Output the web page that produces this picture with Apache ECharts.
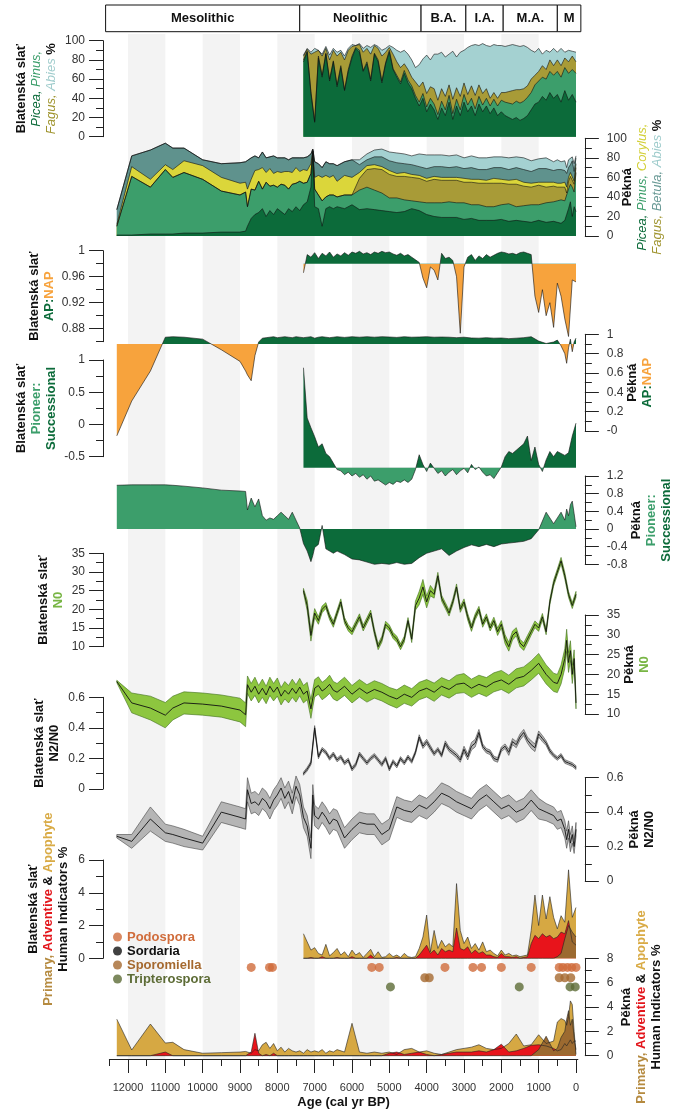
<!DOCTYPE html>
<html>
<head>
<meta charset="utf-8">
<script src="https://cdn.jsdelivr.net/npm/echarts@6/dist/echarts.min.js"></script>
<style>
  html, body { margin: 0; padding: 0; background: #fff; }
  #chart { width: 674px; height: 1112px; }
</style>
</head>
<body>
<div id="chart"></div>
<script>
// ---------------------------------------------------------------------------
// Data: Blatenská slať (high-resolution record, 7300 cal yr BP to present)
// ---------------------------------------------------------------------------
const blatAge = [
  7300,7200,7100,7000,6900,6800,6700,6600,6500,6400,
  6300,6200,6100,6000,5900,5800,5700,5600,5500,5400,
  5300,5200,5100,5000,4900,4800,4700,4600,4500,4400,
  4300,4200,4100,4000,3900,3800,3700,3600,3500,3400,
  3300,3200,3100,3000,2900,2800,2700,2600,2500,2400,
  2300,2200,2100,2000,1900,1800,1700,1600,1500,1400,
  1300,1200,1100,1000,900,800,700,600,500,400,
  300,200,100,0
];
const blatPicea = [
  78,88,45,15,82,62,86,58,78,52,
  72,48,68,82,92,88,68,76,58,86,
  78,56,76,88,70,62,55,66,56,50,
  40,32,40,26,34,28,18,30,22,36,
  18,32,22,36,26,32,22,34,26,32,
  24,30,22,26,22,20,18,20,17,19,
  22,28,34,36,42,38,46,40,44,36,
  48,38,44,36
];
const blatPinus = [
  2,1,2,1,2,2,1,2,1,2,
  2,1,2,2,1,2,1,2,2,1,
  2,2,1,2,1,2,2,3,3,3,
  3,4,5,5,6,6,5,7,6,7,
  6,7,6,8,7,8,7,8,7,8,
  8,9,10,12,14,15,16,17,18,18,
  19,18,20,22,20,22,22,24,24,26,
  24,28,26,30
];
const blatFagus = [
  4,2,39,72,6,20,5,20,11,30,
  14,31,20,10,2,6,19,14,26,8,
  12,26,11,3,15,14,15,7,11,9,
  14,16,12,14,12,16,15,13,14,11,
  15,12,14,12,11,13,14,12,12,10,
  8,7,8,8,10,12,14,12,14,13,
  12,14,10,10,12,10,12,10,12,12,
  10,12,14,12
];
const blatAbies = [
  1,1,2,4,0,2,2,5,2,4,
  2,4,2,2,0,1,4,3,7,1,
  2,6,4,2,7,12,16,14,16,18,
  15,23,24,40,28,36,48,38,41,32,
  50,32,46,34,49,42,53,41,52,45,
  54,50,55,49,48,48,48,46,45,45,
  40,30,24,24,12,20,8,18,8,18,
  6,12,5,10
];
const blatApNap = [
  0.966,0.994,0.99,0.997,0.988,0.996,0.992,0.998,0.99,0.995,
  0.992,0.997,0.993,0.998,0.996,0.999,0.995,0.997,0.994,0.998,
  0.996,0.999,0.997,0.998,0.995,0.993,0.996,0.992,0.994,0.99,
  0.986,0.982,0.958,0.943,0.975,0.97,0.955,0.996,0.988,0.99,
  0.985,0.96,0.873,0.975,0.99,0.994,0.985,0.992,0.988,0.994,
  0.99,0.993,0.996,0.998,0.997,0.995,0.996,0.994,0.997,0.998,
  0.996,0.994,0.93,0.905,0.94,0.9,0.92,0.882,0.95,0.93,
  0.895,0.868,0.955,0.952
];
const blatPioneer = [
  0.88,0.1,-0.05,-0.19,-0.35,-0.3,-0.45,-0.5,-0.6,-0.7,
  -0.72,-0.78,-0.74,-0.8,-0.76,-0.82,-0.78,-0.85,-0.8,-0.88,
  -0.86,-0.9,-0.94,-0.9,-0.93,-0.88,-0.9,-0.86,-0.9,-0.85,
  -0.7,-0.47,-0.62,-0.73,-0.6,-0.68,-0.76,-0.72,-0.8,-0.74,
  -0.7,-0.78,-0.72,-0.68,-0.75,-0.62,-0.7,-0.66,-0.74,-0.8,
  -0.78,-0.84,-0.75,-0.66,-0.5,-0.42,-0.45,-0.4,-0.35,-0.3,
  -0.18,-0.56,-0.35,-0.62,-0.73,-0.55,-0.42,-0.5,-0.42,-0.45,
  -0.48,-0.44,-0.18,0.02
];
const blatN0 = [
  25,21,13,19,17,20,21,18,16,19,
  22,17,15,14,16,18,15,17,19,14,
  10,12,16,15,13,12,10,12,17,12,
  21,23,26,22,25,24,29,23,21,19,
  22,26,20,22,18,15,18,20,16,18,
  15,17,14,16,12,10,13,14,11,10,
  12,14,16,15,18,14,22,27,30,33,
  29,24,21,24
];
const blatN0Spread = [
  0.6,1.4,1.5,1.2,1.0,0.9,0.8,0.8,0.8,0.8,
  0.8,0.8,0.8,0.8,0.8,0.8,0.8,0.8,0.8,0.8,
  0.8,0.8,0.8,0.8,0.8,0.8,0.8,0.8,0.8,0.9,
  1.2,1.8,2.0,1.6,1.4,1.0,0.9,0.8,0.8,0.8,
  0.8,0.8,0.8,0.8,0.9,0.9,0.8,0.8,0.8,0.8,
  0.8,0.9,1.0,1.0,1.2,1.2,1.2,1.1,1.0,1.0,
  1.0,0.9,0.9,0.9,0.9,0.8,0.8,0.8,0.8,0.9,
  0.9,0.8,0.8,0.8
];
const blatN2N0 = [
  0.1,0.13,0.17,0.4,0.21,0.26,0.24,0.2,0.23,0.19,
  0.21,0.17,0.19,0.13,0.16,0.23,0.2,0.17,0.2,0.22,
  0.19,0.16,0.2,0.13,0.18,0.15,0.2,0.17,0.21,0.18,
  0.24,0.34,0.28,0.31,0.27,0.23,0.26,0.22,0.3,0.26,
  0.24,0.22,0.19,0.26,0.21,0.28,0.3,0.37,0.28,0.25,
  0.24,0.2,0.19,0.26,0.28,0.24,0.31,0.29,0.34,0.37,
  0.32,0.29,0.27,0.36,0.33,0.3,0.25,0.22,0.2,0.22,
  0.18,0.17,0.16,0.14
];
const blatN2N0Spread = [
  0.01,0.012,0.012,0.015,0.012,0.012,0.012,0.012,0.012,0.012,
  0.012,0.012,0.012,0.012,0.012,0.012,0.012,0.012,0.012,0.012,
  0.012,0.012,0.012,0.012,0.012,0.012,0.012,0.012,0.012,0.012,
  0.012,0.015,0.015,0.015,0.015,0.012,0.012,0.012,0.015,0.015,
  0.015,0.015,0.015,0.02,0.02,0.025,0.025,0.02,0.015,0.015,
  0.015,0.015,0.015,0.015,0.015,0.02,0.02,0.02,0.02,0.02,
  0.02,0.025,0.025,0.02,0.02,0.015,0.015,0.012,0.012,0.012,
  0.012,0.012,0.012,0.012
];
const blatApophyte = [
  1.5,1.0,0.5,0.65,0.3,0.2,0.85,0.15,0.35,0.6,
  0.2,0.4,0.1,0.5,0.2,0.35,0.05,0.3,0.55,0.1,
  0.4,0.05,0.1,0.3,0.1,0.2,0.05,0.3,0.1,0.05,
  0.1,0.6,1.3,2.64,0.4,1.7,0.6,1.1,0.7,0.9,
  0.7,4.56,1.7,0.9,1.3,0.6,0.9,0.5,1.0,0.4,
  0.5,0.3,0.15,0.5,0.2,0.3,0.15,0.2,0.1,0.15,
  0.2,1.7,3.86,2.0,3.86,2.4,3.76,2.5,1.8,2.6,
  2.2,5.4,2.5,3.1
];
const blatAdventive = [
  0,0,0.05,0,0,0.1,0,0,0,0.05,
  0,0,0,0.1,0,0,0,0,0.2,0,
  0,0,0,0,0,0.05,0,0,0,0,
  0,0.2,0.5,0.8,0.3,0.5,0.2,0.6,0.4,0.5,
  0.4,1.85,0.6,0.5,0.7,0.3,0.5,0.3,0.4,0.2,
  0.2,0.1,0.05,0.3,0.1,0.1,0.05,0.1,0,0.05,
  0.1,0.9,1.4,1.2,1.5,1.3,1.4,1.2,1.3,1.6,
  1.5,2.3,1.0,0.8
];
const blatPrimary = [
  0,0,0,0,0,0,0,0,0,0,
  0,0,0,0,0,0,0,0,0,0,
  0,0,0,0,0,0,0,0,0,0,
  0,0,0,0,0,0,0,0,0,0,
  0,0,0,0,0,0,0,0,0,0,
  0,0,0,0,0,0,0,0,0,0,
  0,0,0,0,0,0,0,0,0.1,0.3,
  1.2,2.0,1.6,1.3
];

// ---------------------------------------------------------------------------
// Data: Pěkná (12300 cal yr BP to present)
// ---------------------------------------------------------------------------
const pekAge = [
  12300,11900,11400,11000,10800,10500,10000,9500,9000,8850,
  8800,8700,8600,8500,8400,8300,8200,8100,8000,7900,
  7800,7700,7600,7500,7400,7300,7200,7100,7050,7000,
  6900,6800,6700,6600,6500,6400,6200,6000,5800,5600,
  5400,5200,5000,4800,4600,4400,4200,4000,3800,3600,
  3400,3200,3000,2800,2600,2400,2200,2000,1800,1600,
  1400,1200,1000,800,600,500,400,300,250,200,
  150,100,50,0
];
const pekPicea = [
  1,1,2,2,2,3,3,4,4,5,
  10,18,22,24,28,20,26,22,28,25,
  22,28,25,30,26,32,35,50,85,30,
  28,10,28,30,28,30,28,32,27,28,
  27,26,25,24,25,28,26,22,20,19,
  19,19,17,18,16,16,16,17,15,16,
  15,14,16,14,15,14,13,16,22,28,
  35,20,30,25
];
const pekPinus = [
  9,60,48,66,58,62,55,42,38,40,
  20,30,25,32,20,35,25,30,22,28,
  30,20,28,24,30,22,20,14,2,18,
  14,26,12,12,14,10,14,10,20,22,
  20,18,14,15,12,8,9,12,14,15,
  16,15,17,14,16,14,14,15,18,14,
  16,18,16,20,20,22,24,20,12,20,
  18,30,15,40
];
const pekFagus = [
  0,0,0,0,0,0,0,0,0,0,
  0,0,0,0,0,0,0,0,0,0,
  0,0,0,0,0,0,0,0,0,0,
  0,0,0,0,0,0,0,0,12,18,
  22,24,24,22,24,24,24,22,24,23,
  22,23,21,23,22,24,24,22,20,23,
  20,18,20,16,16,14,13,14,10,8,
  8,10,8,5
];
const pekCorylus = [
  2,10,8,5,8,12,14,14,12,10,
  18,10,20,12,22,10,18,12,16,12,
  14,18,12,16,10,14,12,10,1,12,
  20,24,22,18,20,16,20,18,6,4,
  4,3,4,3,4,3,3,3,3,3,
  3,3,4,3,4,3,5,4,4,5,
  4,4,3,5,4,4,4,5,6,4,
  4,5,3,4
];
const pekBetula = [
  15,11,30,22,22,13,6,14,21,21,
  28,22,15,12,16,15,12,18,14,15,
  14,12,15,10,14,12,14,10,1,16,
  12,10,14,14,12,16,14,18,8,6,
  8,10,10,11,9,10,9,10,10,11,
  10,11,10,12,10,11,11,12,11,12,
  13,12,14,14,12,14,14,12,14,10,
  8,12,10,6
];
const pekAbies = [
  0,0,0,0,0,0,0,0,0,0,
  0,0,0,0,0,0,0,0,0,0,
  0,0,0,0,0,0,0,0,0,0,
  0,0,0,0,0,0,0,0,5,6,
  7,8,9,10,10,9,13,14,12,12,
  12,12,11,12,12,12,11,11,12,11,
  12,11,10,11,9,10,8,10,6,8,
  5,4,8,2
];
const pekApNap = [
  -0.05,0.31,0.62,0.97,0.975,0.97,0.95,0.84,0.72,0.62,
  0.58,0.52,0.78,0.92,0.96,0.965,0.97,0.975,0.965,0.97,
  0.975,0.97,0.965,0.975,0.97,0.965,0.97,0.975,0.97,0.96,
  0.97,0.975,0.97,0.965,0.97,0.975,0.968,0.975,0.97,0.975,
  0.97,0.975,0.972,0.968,0.975,0.97,0.972,0.975,0.97,0.972,
  0.97,0.965,0.97,0.962,0.96,0.965,0.96,0.962,0.955,0.96,
  0.965,0.975,0.93,0.905,0.92,0.94,0.88,0.8,0.7,0.86,
  0.95,0.82,0.92,0.96
];
const pekPioneer = [
  0.99,1.0,1.0,1.0,0.99,0.97,0.93,0.88,0.86,0.85,
  0.43,0.7,0.5,0.68,0.3,0.2,0.25,0.22,0.3,0.38,
  0.3,0.22,0.38,0.2,0.02,-0.33,-0.5,-0.74,-0.6,-0.42,
  -0.35,0.08,-0.45,-0.5,-0.55,-0.5,-0.58,-0.68,-0.7,-0.75,
  -0.8,-0.78,-0.8,-0.76,-0.8,-0.78,-0.65,-0.55,-0.5,-0.45,
  -0.6,-0.5,-0.42,-0.36,-0.4,-0.35,-0.4,-0.34,-0.32,-0.3,
  -0.28,-0.22,-0.02,0.38,0.12,0.25,0.38,0.2,0.45,0.3,
  0.55,0.63,0.35,0.05
];
const pekN0 = [
  18.2,12.8,11.5,9.7,11.5,12.8,12.5,12,11,9.8,
  17.4,15.5,17,15,16.5,14.8,17,15.5,16.8,14.5,
  16,15,16.5,15.2,16.8,15,15.8,11.3,14,16.5,
  17.2,15.8,16.5,17.5,16,15.5,17,15,16.5,15.2,
  16.2,15.5,14.5,13.8,15,14.2,15.8,16.5,15.5,17,
  16.2,17.5,17.8,16.5,17.5,16.8,18,18.6,17.5,19,
  19.5,21,22.8,20,18,17.7,20,24,28.6,23,
  26,20,24,12.8
];
const pekN0Spread = [
  0.3,2.5,3,3.2,3,2.8,2.8,2.8,3,3,
  2.2,2.2,2.3,2.2,2.3,2.2,2.3,2.2,2.3,2.2,
  2.2,2.2,2.3,2.2,2.2,2.2,2.2,2.4,2.2,2.2,
  2.2,2.2,2.2,2.3,2.2,2.2,2.3,2.2,2.2,2.2,
  2.2,2.2,2.2,2.3,2.3,2.2,2.2,2.2,2.3,2.2,
  2.2,2.3,2.4,2.3,2.3,2.4,2.4,2.4,2.3,2.4,
  2.4,2.4,2.5,2.4,2.3,2.3,2.4,2.5,2.8,2.5,
  2.5,2.3,2.2,1.5
];
const pekN2N0 = [
  0.26,0.23,0.36,0.28,0.27,0.25,0.22,0.4,0.37,0.36,
  0.53,0.45,0.46,0.44,0.48,0.46,0.42,0.47,0.5,0.54,
  0.48,0.52,0.45,0.55,0.5,0.37,0.32,0.19,0.5,0.38,
  0.36,0.4,0.37,0.33,0.36,0.35,0.25,0.3,0.34,0.33,
  0.33,0.27,0.3,0.43,0.41,0.4,0.44,0.42,0.46,0.51,
  0.49,0.46,0.44,0.42,0.47,0.5,0.46,0.42,0.44,0.4,
  0.42,0.47,0.42,0.4,0.38,0.35,0.36,0.3,0.24,0.3,
  0.22,0.27,0.2,0.3
];
const pekN2N0Spread = [
  0.01,0.04,0.07,0.05,0.05,0.05,0.04,0.06,0.06,0.06,
  0.07,0.06,0.06,0.06,0.06,0.06,0.06,0.06,0.06,0.06,
  0.06,0.06,0.06,0.06,0.06,0.06,0.06,0.06,0.06,0.06,
  0.06,0.06,0.06,0.06,0.06,0.06,0.06,0.06,0.06,0.06,
  0.06,0.06,0.06,0.06,0.06,0.06,0.06,0.06,0.06,0.06,
  0.06,0.06,0.06,0.06,0.06,0.06,0.06,0.06,0.06,0.06,
  0.06,0.06,0.06,0.05,0.05,0.05,0.05,0.05,0.05,0.05,
  0.05,0.05,0.04,0.04
];
const pekApophyte = [
  3.0,0.47,2.6,1.04,1.1,0.5,0.2,0.25,0.3,0.35,
  0.3,0.2,0.5,0.4,0.9,1.1,0.6,1.0,0.4,0.7,
  0.3,0.6,0.4,0.3,0.4,0.2,0.5,0.3,0.2,0.4,
  0.3,0.5,0.2,0.4,0.3,0.5,0.3,2.66,0.3,0.2,
  0.3,0.2,0.3,0.1,0.5,0.6,0.3,0.4,0.2,0.1,
  0.3,0.5,0.6,0.7,0.9,0.6,0.5,0.6,1.0,1.78,
  0.8,0.9,1.72,1.0,1.2,2.76,3.05,2.9,2.5,3.2,
  4.5,4.2,2.0,0.1
];
const pekAdventive = [
  0,0,0,0.3,0,0,0,0,0,0,
  0.1,0.3,1.84,0.2,0,0.1,0,0.2,0,0,
  0,0,0,0,0,0,0,0,0,0,
  0,0,0,0,0,0,0,0,0,0,
  0,0,0.2,0.3,0.1,0.2,0.3,0.1,0,0.1,
  0.2,0.3,0.3,0.3,0.4,0.3,0.5,0.95,0.3,0.4,
  0.6,0.85,0.9,0.8,0.6,0.4,0.5,1.0,0.8,0.7,
  1.3,1.0,1.2,1.2
];
const pekPrimary = [
  0,0,0,0,0,0,0,0,0,0,
  0,0,0,0,0,0,0,0,0,0,
  0,0,0,0,0,0,0,0,0,0,
  0,0,0,0,0,0,0,0,0,0,
  0,0,0,0,0,0,0,0,0,0,
  0,0,0,0,0,0,0,0,0,0,
  0,0,0.5,1.6,0.4,0.6,1.5,2.0,3.0,3.7,
  2.5,3.0,1.5,0.5
];

// Coprophilous fungal spores found at Pěkná (ages of occurrence) and the row each sits on
const podosporaAges = [8700, 8210, 8130, 5470, 5270, 3510, 2760, 2530, 2000, 1200, 450, 350, 230, 115, 0];
const sordariaAges = [];
const sporomiellaAges = [4050, 3930, 450, 300, 140];
const tripterosporaAges = [4970, 1520, 160, 20];
const sporeRows = { Podospora: 7.25, Sordaria: 7.25, Sporomiella: 6.4, Tripterospora: 5.65 };

// Archaeological periods (boundaries in cal yr BP)
const periodNames = ['Mesolithic', 'Neolithic', 'B.A.', 'I.A.', 'M.A.', 'M'];
const periodBounds = [12600, 7400, 4150, 2950, 1950, 500, -130];

// Axis ticks
const ageTicks = [0,1000,2000,3000,4000,5000,6000,7000,8000,9000,10000,11000,12000];
const ageMinorTicks = [500,1500,2500,3500,4500,5500,6500,7500,8500,9500,10500,11500,12500];
const shadeSpans = [[12000,11000],[10000,9000],[8000,7000],[6000,5000],[4000,3000],[2000,1000]];
const apTicks = [0.88, 0.92, 0.96, 1];
const apMinorTicks = [0.86, 0.9, 0.94, 0.98];

// ---------------------------------------------------------------------------
// Styling and layout
// ---------------------------------------------------------------------------
const FONT = "'Liberation Sans', Arial, Helvetica, sans-serif";
const AXIS = '#222';
const C = {
  picea: '#0c6b3a', pinus: '#3c9e6b', fagus: '#a89b37', abies: '#a4d1d1',
  corylus: '#dbd63a', betula: '#5f928d',
  ap: '#0c6b3a', nap: '#f7a33d', pioneer: '#3c9e6b', succ: '#0c6b3a',
  n0: '#8dc63f', n0edge: '#3f6f1d', n2: '#b5b5b5', n2edge: '#444',
  apo: '#d6a843', adv: '#e8141b', prim: '#9c6a30',
  podo: '#d06c3b', sord: '#111', sporo: '#a5692f', tript: '#5d6c36',
  shade: '#f3f3f3'
};
const X_MIN = -50, X_MAX = 12500;
const X0 = 576, K = 448 / 12000;   // pixel of age 0, pixels per year

const T = o => Object.assign({ fontFamily: FONT, fontSize: 13, lineHeight: 15, fontWeight: 'bold', color: '#111' }, o);
const IT = color => T({ fontWeight: 'normal', fontStyle: 'italic', color });
const rich = {
  b: T({}),
  pi: IT(C.picea), pn: IT(C.pinus), fa: IT('#a09530'), ab: IT('#9fcccc'),
  co: IT('#d2cf35'), be: IT('#6a9a96'),
  ap: T({ color: C.ap }), na: T({ color: C.nap }),
  pio: T({ color: C.pioneer }), suc: T({ color: C.succ }),
  n0: T({ color: '#78b544' }),
  pr: T({ color: '#b58a3f' }), ad: T({ color: '#e3161c' }), apo: T({ color: '#d9ab46' })
};
const NAMES = {
  blatVeg: '{b|Blatenská slať}\n{pi|Picea, }{pn|Pinus,}\n{fa|Fagus, }{ab|Abies }{b|%}',
  pekVeg: '{b|Pěkná}\n{pi|Picea, }{pn|Pinus, }{co|Corylus,}\n{fa|Fagus, }{be|Betula, }{ab|Abies }{b|%}',
  blatAP: '{b|Blatenská slať}\n{ap|AP:}{na|NAP}',
  pekAP: '{b|Pěkná}\n{ap|AP:}{na|NAP}',
  blatPS: '{b|Blatenská slať}\n{pio|Pioneer:}\n{suc|Successional}',
  pekPS: '{b|Pěkná}\n{pio|Pioneer:}\n{suc|Successional}',
  blatN0: '{b|Blatenská slať}\n{n0|N0}',
  pekN0: '{b|Pěkná}\n{n0|N0}',
  blatN2: '{b|Blatenská slať}\n{b|N2/N0}',
  pekN2: '{b|Pěkná}\n{b|N2/N0}',
  blatHum: '{b|Blatenská slať}\n{pr|Primary, }{ad|Adventive }{b|& }{apo|Apophyte}\n{b|Human Indicators %}',
  pekHum: '{b|Pěkná}\n{pr|Primary, }{ad|Adventive }{b|& }{apo|Apophyte}\n{b|Human Indicators %}'
};

const grids = [], xAxes = [], yAxes = [], series = [], visualMaps = [];

function addGrid(top, height, xmin = X_MIN, xmax = X_MAX) {
  const gi = grids.length;
  grids.push({
    left: X0 - xmax * K, width: (xmax - xmin) * K, top, height,
    containLabel: false, outerBoundsMode: 'none'
  });
  const xi = xAxes.length;
  xAxes.push({ type: 'value', gridIndex: gi, min: xmin, max: xmax, inverse: true, show: false });
  return { gi, xi };
}
function hiddenY(gi, min, max) {
  yAxes.push({ type: 'value', gridIndex: gi, min, max, show: false });
  return yAxes.length - 1;
}
function visY(gi, side, min, max, interval, name, nameGap, extra) {
  const ax = {
    type: 'value', gridIndex: gi, position: side, min, max,
    offset: side === 'left' ? 6.3 : 7,
    axisLine: { show: true, onZero: false, lineStyle: { color: AXIS, width: 1 } },
    axisTick: { show: true, length: 14, lineStyle: { color: AXIS, width: 1 } },
    minorTick: { show: true, splitNumber: 2, length: 7, lineStyle: { color: AXIS, width: 1 } },
    splitLine: { show: false }, minorSplitLine: { show: false },
    axisLabel: { fontFamily: FONT, fontSize: 12, color: '#333', margin: side === 'left' ? 18 : 22 },
    name, nameGap, nameLocation: 'middle', nameRotate: 90, nameMoveOverlap: false,
    nameTextStyle: { fontFamily: FONT, rich }
  };
  if (interval != null) ax.interval = interval;
  yAxes.push(Object.assign(ax, extra || {}));
  return yAxes.length - 1;
}
const pairs = (ages, vals) => ages.map((a, i) => [a, vals[i]]);

// Stacked percentages: running totals drawn from the top layer down, each filled to zero
function stackedAreas(g, yi, ages, layers) {
  const totals = [];
  let acc = ages.map(() => 0);
  layers.forEach(([vals]) => { acc = acc.map((v, i) => v + vals[i]); totals.push(acc); });
  for (let k = layers.length - 1; k >= 0; k--) {
    series.push({
      type: 'line', xAxisIndex: g.xi, yAxisIndex: yi, data: pairs(ages, totals[k]),
      symbol: 'none', lineStyle: { color: '#111', width: 0.6 },
      areaStyle: { color: layers[k][1], opacity: 1 }, z: 3
    });
  }
}
// Area filled from a baseline, one colour above it and another below it
function splitArea(g, yi, ages, vals, base, above, below) {
  visualMaps.push({
    type: 'piecewise', show: false, seriesIndex: series.length, dimension: 1,
    pieces: [{ gt: base, lte: base + 100, color: above }, { gte: base - 100, lte: base, color: below }]
  });
  series.push({
    type: 'line', xAxisIndex: g.xi, yAxisIndex: yi, data: pairs(ages, vals),
    symbol: 'none', lineStyle: { width: 0 }, areaStyle: { origin: base, opacity: 1 }, clip: false, z: 3
  });
  series.push({
    type: 'line', xAxisIndex: g.xi, yAxisIndex: yi, data: pairs(ages, vals),
    symbol: 'none', lineStyle: { color: '#111', width: 0.6 }, clip: false, z: 4
  });
}
// Uncertainty envelope (mean ± spread) as one polygon, with the mean drawn over it
function band(g, yi, ages, mean, spread, fill, edge) {
  const rows = ages.map((a, i) => [a, mean[i] - spread[i], mean[i] + spread[i]]);
  series.push({
    type: 'custom', xAxisIndex: g.xi, yAxisIndex: yi, data: rows, clip: false, z: 3,
    encode: { x: 0, y: [1, 2] }, silent: true,
    renderItem: (params, api) => {
      if (params.dataIndex !== 0) return null;
      const upper = rows.map(r => api.coord([r[0], r[2]]));
      const lower = rows.map(r => api.coord([r[0], r[1]])).reverse();
      return {
        type: 'polygon', shape: { points: upper.concat(lower) },
        style: { fill, stroke: edge, lineWidth: 0.6 }
      };
    }
  });
  series.push({
    type: 'line', xAxisIndex: g.xi, yAxisIndex: yi, data: pairs(ages, mean),
    symbol: 'none', lineStyle: { color: '#111', width: 0.9 }, clip: false, z: 4
  });
}
function plainArea(g, yi, ages, vals, color) {
  series.push({
    type: 'line', xAxisIndex: g.xi, yAxisIndex: yi, data: pairs(ages, vals),
    symbol: 'none', lineStyle: { color: '#222', width: 0.6 },
    areaStyle: { color, opacity: 1 }, clip: false, z: 3
  });
}

// Background shading and the shared age axis
const bg = addGrid(34, 1025);
const bgY = hiddenY(bg.gi, 0, 1);
Object.assign(xAxes[bg.xi], {
  show: true, position: 'bottom',
  axisLine: { show: true, onZero: false, lineStyle: { color: AXIS, width: 1 } },
  axisTick: { show: true, length: 14, customValues: ageTicks, lineStyle: { color: AXIS } },
  axisLabel: { show: true, customValues: ageTicks, formatter: v => String(v), fontFamily: FONT, fontSize: 11, color: '#333', margin: 23 },
  splitLine: { show: false },
  name: 'Age (cal yr BP)', nameLocation: 'middle', nameGap: 37, nameMoveOverlap: false,
  nameTextStyle: { fontFamily: FONT, fontWeight: 'bold', fontSize: 13, color: '#111' }
});
xAxes.push({
  type: 'value', gridIndex: bg.gi, min: X_MIN, max: X_MAX, inverse: true, position: 'bottom',
  axisLine: { show: false, onZero: false }, axisLabel: { show: false }, splitLine: { show: false },
  axisTick: { show: true, length: 7, customValues: ageMinorTicks, lineStyle: { color: AXIS } }
});
series.push({
  type: 'line', xAxisIndex: bg.xi, yAxisIndex: bgY, data: [[6000, 0.5]], symbol: 'none',
  lineStyle: { width: 0 }, silent: true, z: 0,
  markArea: {
    silent: true, z: 0, itemStyle: { color: C.shade },
    data: shadeSpans.map(([a, b]) => [{ xAxis: a }, { xAxis: b }])
  }
});

// Period header
const hdr = addGrid(5, 26.7, periodBounds[periodBounds.length - 1], periodBounds[0]);
const hdrY = hiddenY(hdr.gi, 0, 1);
series.push({
  type: 'line', xAxisIndex: hdr.xi, yAxisIndex: hdrY, data: [[6000, 0.5]], symbol: 'none',
  lineStyle: { width: 0 }, silent: true, z: 1,
  markArea: {
    silent: true,
    itemStyle: { color: '#fff', borderColor: '#111', borderWidth: 1 },
    label: { show: true, position: 'inside', fontFamily: FONT, fontWeight: 'bold', fontSize: 13, color: '#111' },
    data: periodNames.map((p, i) => [{ name: p, xAxis: periodBounds[i] }, { xAxis: periodBounds[i + 1] }])
  }
});

// 1. Blatenská slať tree taxa
const g1 = addGrid(40.7, 96);
const y1 = visY(g1.gi, 'left', 0, 100, 20, NAMES.blatVeg, 44.5);
stackedAreas(g1, y1, blatAge, [
  [blatPicea, C.picea], [blatPinus, C.pinus], [blatFagus, C.fagus], [blatAbies, C.abies]
]);

// 2. Pěkná tree taxa
const g2 = addGrid(138.3, 97.7);
const y2 = visY(g2.gi, 'right', 0, 100, 20, NAMES.pekVeg, 35.5);
stackedAreas(g2, y2, pekAge, [
  [pekPicea, C.picea], [pekPinus, C.pinus], [pekFagus, C.fagus],
  [pekCorylus, C.corylus], [pekBetula, C.betula], [pekAbies, C.abies]
]);

// 3. Blatenská slať AP:NAP
const g3 = addGrid(250.7, 91);
const y3 = visY(g3.gi, 'left', 0.86, 1, null, NAMES.blatAP, 46.5, {
  axisTick: { show: true, length: 14, customValues: apTicks, lineStyle: { color: AXIS } },
  axisLabel: { customValues: apTicks, fontFamily: FONT, fontSize: 12, color: '#333', margin: 18 },
  minorTick: { show: false }
});
yAxes.push({
  type: 'value', gridIndex: g3.gi, position: 'left', offset: 6.3, min: 0.86, max: 1,
  axisLine: { show: false, onZero: false }, axisLabel: { show: false }, splitLine: { show: false },
  axisTick: { show: true, length: 7, customValues: apMinorTicks, lineStyle: { color: AXIS } }
});
splitArea(g3, y3, blatAge, blatApNap, 0.98, C.ap, C.nap);

// 4. Pěkná AP:NAP
const g4 = addGrid(334.3, 96.7);
const y4 = visY(g4.gi, 'right', 0, 1, 0.2, NAMES.pekAP, 40.5, {
  axisLabel: { fontFamily: FONT, fontSize: 12, color: '#333', margin: 22, formatter: v => (v === 0 ? '-0' : String(v)) }
});
splitArea(g4, y4, pekAge, pekApNap, 0.9, C.ap, C.nap);

// 5. Blatenská slať Pioneer:Successional
const g5 = addGrid(360, 128.9);
const y5 = hiddenY(g5.gi, -1, 1);
const g5v = addGrid(360, 96.7);
visY(g5v.gi, 'left', -0.5, 1, 0.5, NAMES.blatPS, 44);
splitArea(g5, y5, blatAge, blatPioneer, -0.67, C.succ, C.pioneer);

// 6. Pěkná Pioneer:Successional
const g6 = addGrid(476, 88.3);
const y6 = visY(g6.gi, 'right', -0.8, 1.2, 0.4, NAMES.pekPS, 44);
splitArea(g6, y6, pekAge, pekPioneer, 0, C.pioneer, C.succ);

// 7. Blatenská slať N0
const g7 = addGrid(553.3, 93.4);
const y7 = visY(g7.gi, 'left', 10, 35, 5, NAMES.blatN0, 37);
band(g7, y7, blatAge, blatN0, blatN0Spread, C.n0, C.n0edge);

// 8. Pěkná N0
const g8 = addGrid(615, 99);
const y8 = visY(g8.gi, 'right', 10, 35, 5, NAMES.pekN0, 37.5);
band(g8, y8, pekAge, pekN0, pekN0Spread, C.n0, C.n0edge);

// 9. Blatenská slať N2/N0
const g9 = addGrid(697.3, 91.7);
const y9 = visY(g9.gi, 'left', 0, 0.6, 0.2, NAMES.blatN2, 41);
band(g9, y9, blatAge, blatN2N0, blatN2N0Spread, C.n2, C.n2edge);

// 10. Pěkná N2/N0
const g10 = addGrid(777.7, 103.3);
const y10 = visY(g10.gi, 'right', 0, 0.6, 0.2, NAMES.pekN2, 42.5);
band(g10, y10, pekAge, pekN2N0, pekN2N0Spread, C.n2, C.n2edge);

// 11. Blatenská slať human indicators
const g11 = addGrid(860, 98.3);
const y11 = visY(g11.gi, 'left', 0, 6, 2, NAMES.blatHum, 32);
plainArea(g11, y11, blatAge, blatApophyte, C.apo);
plainArea(g11, y11, blatAge, blatAdventive, C.adv);
plainArea(g11, y11, blatAge, blatPrimary, C.prim);

// 12. Pěkná human indicators and fungal spores
const g12 = addGrid(958.3, 97.4);
const y12 = visY(g12.gi, 'right', 0, 8, 2, NAMES.pekHum, 34.5);
plainArea(g12, y12, pekAge, pekApophyte, C.apo);
plainArea(g12, y12, pekAge, pekAdventive, C.adv);
plainArea(g12, y12, pekAge, pekPrimary, C.prim);

const spores = [
  ['Podospora', podosporaAges, C.podo],
  ['Sordaria', sordariaAges, C.sord],
  ['Sporomiella', sporomiellaAges, C.sporo],
  ['Tripterospora', tripterosporaAges, C.tript]
];
spores.forEach(([name, ages, color]) => {
  series.push({
    type: 'scatter', name, xAxisIndex: g12.xi, yAxisIndex: y12,
    data: ages.map(a => [a, sporeRows[name]]),
    symbol: 'circle', symbolSize: 9, itemStyle: { color }, clip: false, z: 6
  });
});

const chart = echarts.init(document.getElementById('chart'), null, { renderer: 'canvas' });
chart.setOption({
  animation: false,
  backgroundColor: '#fff',
  grid: grids,
  xAxis: xAxes,
  yAxis: yAxes,
  visualMap: visualMaps,
  legend: {
    orient: 'vertical', left: 108, top: 925, itemWidth: 9, itemHeight: 9, itemGap: 0,
    icon: 'circle', selectedMode: false,
    textStyle: { fontFamily: FONT, fontWeight: 'bold', fontSize: 13, lineHeight: 14 },
    data: spores.map(([name, , color]) => ({ name, textStyle: { color } }))
  },
  series
});
</script>
</body>
</html>
